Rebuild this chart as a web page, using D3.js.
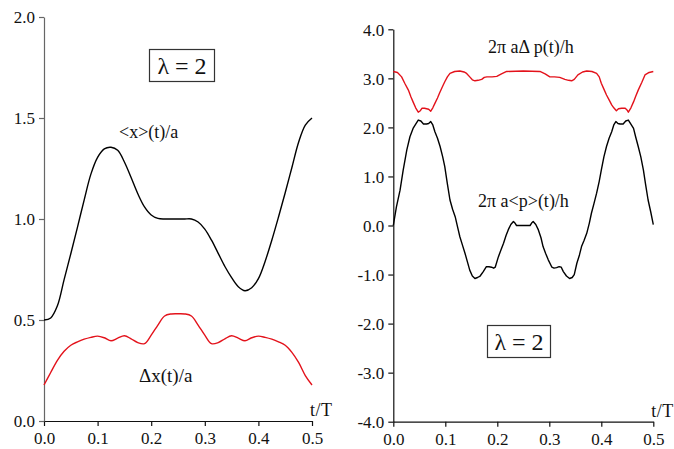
<!DOCTYPE html>
<html>
<head>
<meta charset="utf-8">
<script src="https://cdn.jsdelivr.net/npm/d3@7"></script>
<style>
  html, body { margin: 0; padding: 0; background: #fff; }
  svg { display: block; }
  text { font-family: "Liberation Serif", "Times New Roman", serif; fill: #111; }
</style>
</head>
<body>
<svg id="chart" width="674" height="449"></svg>
<script>
// ---- Left panel: position expectation and width (time step 0.0125 T) ----
const tLeft = d3.range(0, 41).map(i => i * 0.0125);
const xMean = [0.500, 0.510, 0.570, 0.700, 0.828, 0.960, 1.095, 1.222, 1.305, 1.347,
               1.355, 1.340, 1.282, 1.205, 1.125, 1.060, 1.020, 1.003, 1.000, 1.000,
               1.000, 1.000, 1.000, 0.985, 0.950, 0.895, 0.830, 0.765, 0.710, 0.665,
               0.645, 0.660, 0.705, 0.790, 0.895, 1.010, 1.130, 1.255, 1.380, 1.465,
               1.500];
const xWidth = [0.178, 0.240, 0.300, 0.345, 0.375, 0.392, 0.405, 0.414, 0.420, 0.412,
                0.397, 0.410, 0.422, 0.407, 0.388, 0.383, 0.425, 0.475, 0.520, 0.530,
                0.531, 0.530, 0.520, 0.475, 0.425, 0.383, 0.388, 0.407, 0.422, 0.410,
                0.397, 0.412, 0.420, 0.414, 0.405, 0.392, 0.375, 0.340, 0.290, 0.225,
                0.178];
const leftYTicks = [0, 0.5, 1.0, 1.5, 2.0];

// ---- Right panel: momentum expectation and width ----
const tMomMean = [0.000, 0.006, 0.013, 0.019, 0.026, 0.032, 0.038, 0.044, 0.048, 0.053,
                  0.058, 0.064, 0.068, 0.072, 0.076, 0.080, 0.085, 0.090, 0.095, 0.099,
                  0.104, 0.109, 0.114, 0.119, 0.124, 0.128, 0.133, 0.138, 0.142, 0.147,
                  0.152, 0.157, 0.162, 0.167, 0.173, 0.179, 0.184, 0.189, 0.193, 0.196,
                  0.202, 0.207, 0.212, 0.217, 0.221, 0.226, 0.231, 0.234, 0.237, 0.250,
                  0.263, 0.266, 0.269, 0.274, 0.279, 0.284, 0.288, 0.293, 0.298, 0.305,
                  0.309, 0.314, 0.319, 0.323, 0.327, 0.333, 0.339, 0.344, 0.348, 0.353,
                  0.358, 0.362, 0.367, 0.372, 0.377, 0.381, 0.386, 0.391, 0.396, 0.400,
                  0.405, 0.410, 0.415, 0.420, 0.424, 0.428, 0.432, 0.436, 0.442, 0.447,
                  0.452, 0.456, 0.462, 0.466, 0.471, 0.476, 0.481, 0.485, 0.490, 0.495,
                  0.500];
const pMean = [0.00, 0.38, 0.72, 1.13, 1.54, 1.81, 1.98, 2.08, 2.15, 2.13,
               2.07, 2.07, 2.08, 2.12, 2.05, 1.91, 1.78, 1.61, 1.40, 1.20,
               0.85, 0.52, 0.33, 0.18, -0.05, -0.23, -0.40, -0.57, -0.72, -0.91,
               -1.03, -1.08, -1.06, -1.03, -0.94, -0.84, -0.84, -0.85, -0.87, -0.85,
               -0.64, -0.50, -0.36, -0.20, -0.09, 0.02, 0.08, 0.05, 0.00, 0.00,
               0.00, 0.05, 0.08, 0.02, -0.09, -0.25, -0.43, -0.57, -0.70, -0.85,
               -0.87, -0.86, -0.84, -0.85, -0.94, -1.03, -1.08, -1.06, -1.00, -0.77,
               -0.60, -0.43, -0.30, -0.16, 0.05, 0.25, 0.45, 0.66, 0.90, 1.13,
               1.40, 1.61, 1.78, 1.91, 2.05, 2.12, 2.08, 2.07, 2.07, 2.13,
               2.15, 2.08, 1.98, 1.81, 1.61, 1.40, 1.13, 0.85, 0.52, 0.28,
               0.02];
const tMomWidth = [0.000, 0.008, 0.016, 0.022, 0.029, 0.034, 0.038, 0.043, 0.048, 0.052,
                   0.055, 0.060, 0.064, 0.068, 0.072, 0.076, 0.080, 0.085, 0.089, 0.094,
                   0.099, 0.104, 0.109, 0.118, 0.128, 0.136, 0.141, 0.147, 0.152, 0.157,
                   0.163, 0.170, 0.175, 0.180, 0.190, 0.199, 0.208, 0.218, 0.250,
                   0.282, 0.292, 0.301, 0.310, 0.320, 0.325, 0.330, 0.337, 0.343, 0.348,
                   0.355, 0.364, 0.372, 0.382, 0.391, 0.396, 0.400, 0.405, 0.410, 0.415,
                   0.420, 0.424, 0.429, 0.433, 0.439, 0.446, 0.449, 0.452, 0.457, 0.462,
                   0.466, 0.471, 0.478, 0.484, 0.492, 0.500];
const pWidth = [3.14, 3.12, 3.03, 2.90, 2.76, 2.62, 2.52, 2.40, 2.31, 2.34,
                2.39, 2.39, 2.38, 2.37, 2.33, 2.40, 2.49, 2.60, 2.70, 2.82,
                2.93, 3.03, 3.10, 3.14, 3.15, 3.13, 3.10, 3.03, 2.97, 2.95,
                2.96, 2.98, 3.02, 3.03, 3.03, 3.04, 3.09, 3.14, 3.15,
                3.14, 3.09, 3.03, 3.03, 3.02, 3.00, 2.98, 2.96, 2.95, 2.98,
                3.07, 3.13, 3.15, 3.14, 3.10, 3.03, 2.90, 2.78, 2.66, 2.56,
                2.46, 2.40, 2.34, 2.38, 2.39, 2.39, 2.36, 2.31, 2.40, 2.52,
                2.63, 2.76, 2.92, 3.07, 3.12, 3.14];
const rightYTicks = [-4, -3, -2, -1, 0, 1, 2, 3, 4];

const timeTicks = [0, 0.1, 0.2, 0.3, 0.4, 0.5];

const RED = "#e3121b";
const SERIF = "'Liberation Serif', 'Times New Roman', serif";
const svg = d3.select("#chart");
// one decimal, plain hyphen for negatives
const fmt = v => d3.format(".1f")(v).replace("\u2212", "-");

function styleAxis(g, color) {
  g.attr("font-family", SERIF).attr("font-size", 17);
  g.selectAll("path.domain").attr("stroke", color).attr("stroke-width", 1.2);
  g.selectAll(".tick line").attr("stroke", color).attr("stroke-width", 1.2);
  g.selectAll(".tick text")
    .style("font-family", SERIF)
    .style("font-size", "17px")
    .attr("fill", "#111");
}

function panel(cfg) {
  const x = d3.scaleLinear().domain([0, 0.5]).range(cfg.xr);
  const y = d3.scaleLinear().domain(cfg.yd).range(cfg.yr);

  const gx = svg.append("g")
    .attr("transform", `translate(0,${cfg.yr[0]})`)
    .call(d3.axisBottom(x).tickValues(timeTicks).tickFormat(fmt).tickSize(5).tickSizeOuter(0).tickPadding(6));
  styleAxis(gx, "#111");

  const gy = svg.append("g")
    .attr("transform", `translate(${cfg.xr[0]},0)`)
    .call(d3.axisLeft(y).tickValues(cfg.yTicks).tickFormat(fmt).tickSize(5).tickSizeOuter(0).tickPadding(4));
  styleAxis(gy, cfg.yAxisColor);
  gy.selectAll(".tick text").attr("dy", "0.34em");

  cfg.series.forEach(s => {
    const line = d3.line()
      .x((d, i) => x(s.t[i]))
      .y(d => y(d))
      .curve(s.curve);
    svg.append("path")
      .attr("d", line(s.v))
      .attr("fill", "none")
      .attr("stroke", s.color)
      .attr("stroke-width", 1.4)
      .attr("stroke-linejoin", "round");
  });

  svg.append("text")
    .attr("x", cfg.xr[1] - 2).attr("y", cfg.yr[0] - 5)
    .style("font-size", "18px").style("letter-spacing", "0.5px")
    .text("t/T");

  return { x, y };
}

// Left: <x>(t)/a and Δx(t)/a
panel({
  xr: [44, 312], yd: [0, 2], yr: [421, 17], yTicks: leftYTicks, yAxisColor: "#666",
  series: [
    { t: tLeft, v: xMean, color: "#000", curve: d3.curveCatmullRom },
    { t: tLeft, v: xWidth, color: RED, curve: d3.curveCatmullRom }
  ]
});

// Right: 2πa<p>(t)/h and 2πaΔp(t)/h
panel({
  xr: [393.3, 653.3], yd: [-4, 4], yr: [421.7, 29.3], yTicks: rightYTicks, yAxisColor: "#111",
  series: [
    { t: tMomWidth, v: pWidth, color: RED, curve: d3.curveLinear },
    { t: tMomMean, v: pMean, color: "#000", curve: d3.curveLinear }
  ]
});

// Curve labels
function label(x, y, txt, size) {
  svg.append("text").attr("x", x).attr("y", y)
    .style("font-size", size + "px").text(txt);
}
label(119, 138, "<x>(t)/a", 18);
label(139, 382, "Δx(t)/a", 19);
label(488, 53, "2π aΔ p(t)/h", 18);
label(478, 207, "2π a<p>(t)/h", 18);

// Parameter boxes
function paramBox(x0, y0, w, h) {
  svg.append("rect").attr("x", x0).attr("y", y0).attr("width", w).attr("height", h)
    .attr("fill", "#fff").attr("stroke", "#333").attr("stroke-width", 1.2);
  svg.append("text").attr("x", x0 + w / 2).attr("y", y0 + h / 2 + 8)
    .attr("text-anchor", "middle").style("font-size", "24px").text("λ = 2");
}
paramBox(149.5, 49.5, 65, 32);
paramBox(487.5, 325.5, 63, 32);
</script>
</body>
</html>
